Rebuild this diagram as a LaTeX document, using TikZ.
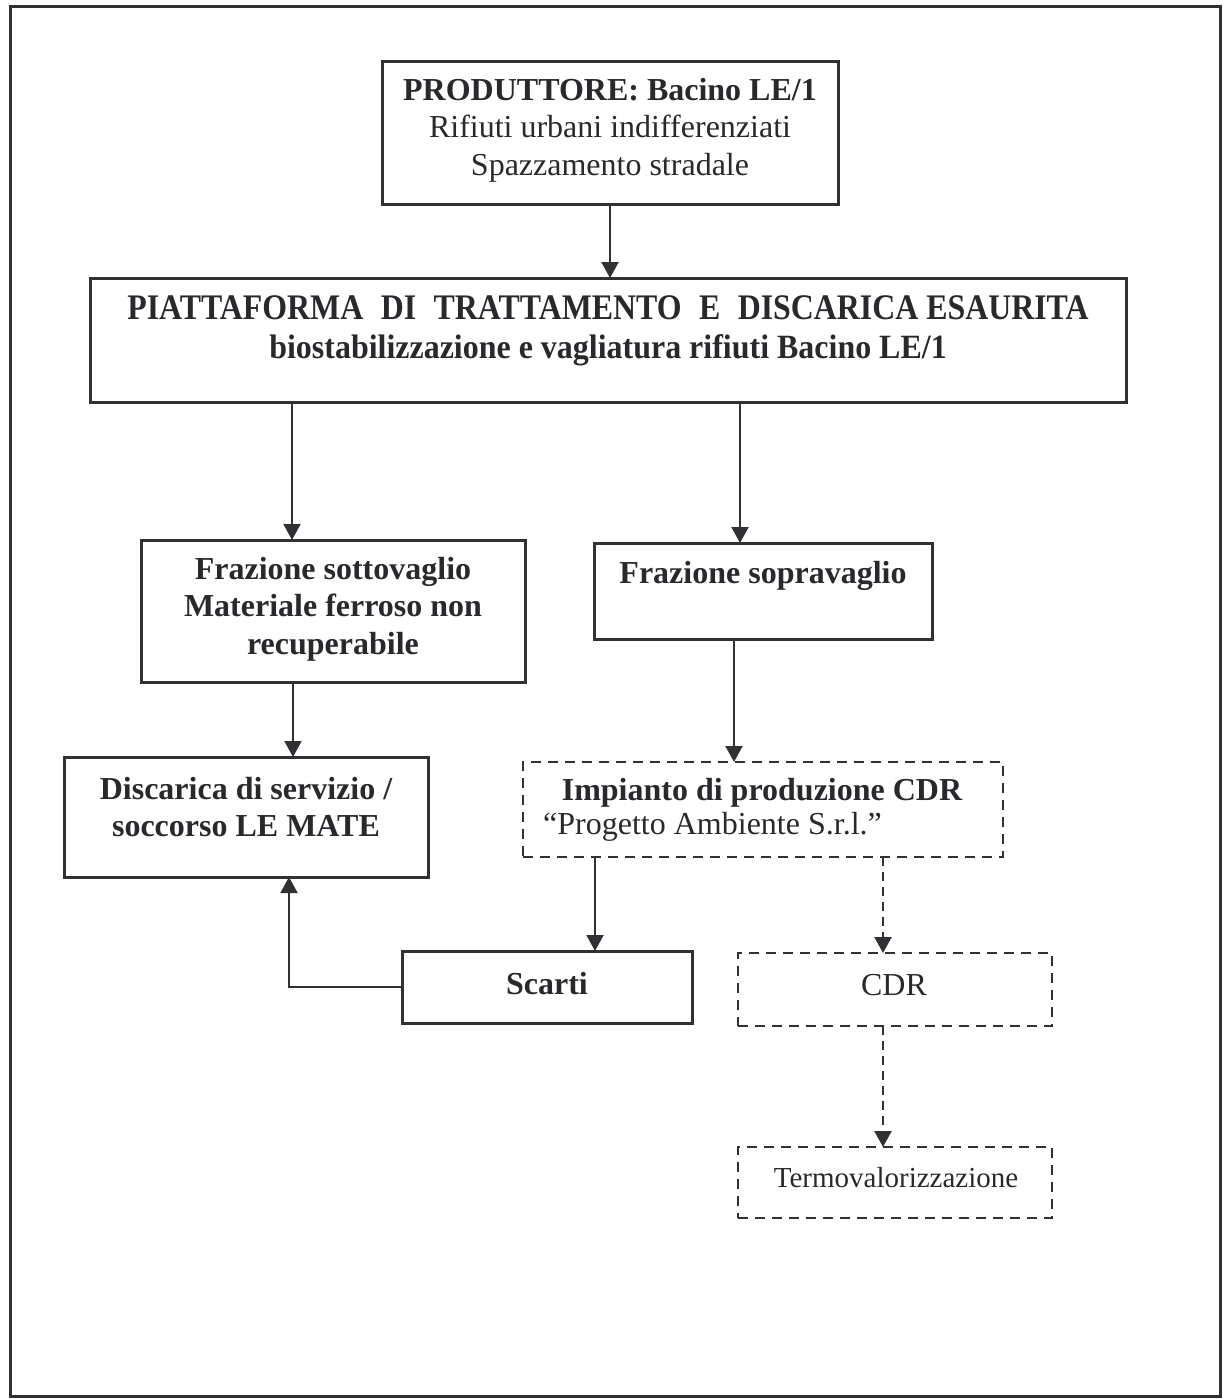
\documentclass[tikz,border=0pt]{standalone}
\usepackage{fontspec}
\setmainfont{Liberation Serif}
\usetikzlibrary{arrows.meta}
\definecolor{ink}{HTML}{333035}
\definecolor{txt}{HTML}{2A282C}
\tikzset{
  box/.style={draw=ink, line width=3pt, inner sep=0pt, outer sep=0pt},
  dbox/.style={draw=ink, line width=2.6pt, dash pattern=on 10pt off 7pt, inner sep=0pt, outer sep=0pt},
  lbl/.style={text=txt, align=center, inner sep=0pt, font=\fontsize{32}{37.5}\selectfont},
  arr/.style={draw=ink, line width=2pt, -{Triangle[width=17pt,length=16pt]}},
  darr/.style={draw=ink, line width=2.4pt, dash pattern=on 9pt off 6pt, -{Triangle[width=17pt,length=16pt]}}
}
\begin{document}
\begin{tikzpicture}[x=1pt,y=-1pt]
\useasboundingbox (0,0) rectangle (1228,1399);
\draw[ink, line width=3pt] (10,7) rectangle (1220,1396);

% boxes
\node[box, minimum width=456pt, minimum height=142pt] (b1) at (610,133) {};
\node[box, minimum width=1036pt, minimum height=124pt] (b2) at (608,340) {};
\node[box, minimum width=384pt, minimum height=142pt] (b3) at (333,611) {};
\node[box, minimum width=338pt, minimum height=96pt] (b4) at (763,591) {};
\node[box, minimum width=364pt, minimum height=120pt] (b5) at (246,817) {};
\node[dbox, minimum width=480pt, minimum height=95pt] (b6) at (763,809.5) {};
\node[box, minimum width=290pt, minimum height=72pt] (b7) at (547,987) {};
\node[dbox, minimum width=314pt, minimum height=73pt] (b8) at (895,989.5) {};
\node[dbox, minimum width=314pt, minimum height=71pt] (b9) at (895,1182.5) {};

% texts
\node[lbl] (t1) at (610,130) {\textbf{PRODUTTORE: Bacino LE/1}\\Rifiuti urbani indifferenziati\\Spazzamento stradale};
\node[lbl, font=\fontsize{32}{39}\selectfont\bfseries] (t2) at (608,331) {\scalebox{0.885}[1]{\fontsize{36}{39}\selectfont PIATTAFORMA\hspace{0.3em} DI\hspace{0.3em} TRATTAMENTO\hspace{0.3em} E\hspace{0.3em} DISCARICA ESAURITA}\\\scalebox{0.94}[1]{\fontsize{34}{39}\selectfont biostabilizzazione e vagliatura rifiuti Bacino LE/1}};
\node[lbl, font=\fontsize{32}{37.5}\selectfont\bfseries] (t3) at (333,609) {Frazione sottovaglio\\Materiale ferroso non\\recuperabile};
\node[lbl, font=\fontsize{32}{37.5}\selectfont\bfseries] (t4) at (763,576) {Frazione sopravaglio};
\node[lbl, font=\fontsize{32}{37.5}\selectfont\bfseries] (t5) at (246,807) {Discarica di servizio /\\soccorso LE MATE};
\node[lbl, font=\fontsize{32}{37.5}\selectfont\bfseries] (t6a) at (762,793) {Impianto di produzione CDR};
\node[lbl, anchor=west] (t6b) at (543,827) {``Progetto Ambiente S.r.l.''};
\node[lbl, font=\fontsize{32}{37.5}\selectfont\bfseries] (t7) at (547,984) {Scarti};
\node[lbl] (t8) at (894,985) {CDR};
\node[lbl, font=\fontsize{29}{34}\selectfont] (t9) at (896,1178) {Termovalorizzazione};

% connectors
\draw[arr] (b1.south) -- (b1.south |- b2.north);
\draw[arr] ([xshift=-41pt]b3.north |- b2.south) -- ([xshift=-41pt]b3.north);
\draw[arr] ([xshift=-23pt]b4.north |- b2.south) -- ([xshift=-23pt]b4.north);
\draw[arr] ([xshift=47pt]b5.north |- b3.south) -- ([xshift=47pt]b5.north);
\draw[arr] ([xshift=-29pt]b6.north |- b4.south) -- ([xshift=-29pt]b6.north);
\draw[arr] ([xshift=48pt]b7.north |- b6.south) -- ([xshift=48pt]b7.north);
\draw[arr] (b7.west) -| ([xshift=43pt]b5.south);
\draw[darr] ([xshift=-12pt]b8.north |- b6.south) -- ([xshift=-12pt]b8.north);
\draw[darr] ([xshift=-12pt]b9.north |- b8.south) -- ([xshift=-12pt]b9.north);
\end{tikzpicture}
\end{document}
